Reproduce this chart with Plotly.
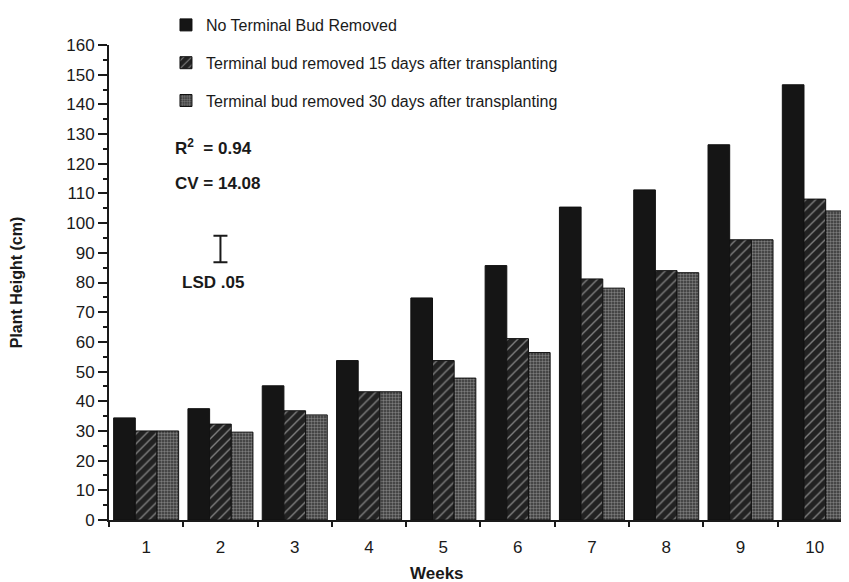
import plotly.graph_objects as go

weeks = ["1", "2", "3", "4", "5", "6", "7", "8", "9", "10"]
no_removal = [34.4, 37.5, 45.2, 53.7, 74.8, 85.7, 105.4, 111.2, 126.4, 146.6]
removed_15 = [30.0, 32.3, 36.8, 43.2, 53.7, 61.1, 81.2, 84.0, 94.4, 108.1]
removed_30 = [30.0, 29.6, 35.4, 43.2, 47.8, 56.4, 78.1, 83.3, 94.4, 104.1]
series_names = [
    "No Terminal Bud Removed",
    "Terminal bud removed 15 days after transplanting",
    "Terminal bud removed 30 days after transplanting",
]
lsd_week = ["2"]
lsd_center = [91.3]
lsd_half = [4.45]

FONT = "Liberation Sans, Arial, Helvetica, sans-serif"
INK = "#1a1a1a"

fig = go.Figure()
fig.add_trace(go.Bar(
    x=weeks, y=no_removal, name=series_names[0], legendgroup="a",
    marker=dict(color="#151515", line=dict(color="#111", width=1)),
))
fig.add_trace(go.Bar(
    x=weeks, y=removed_15, name=series_names[1], legendgroup="b",
    marker=dict(color="#222222", line=dict(color="#111", width=1),
                pattern=dict(shape="/", fgcolor="#dcdcdc", size=7, solidity=0.2)),
))
fig.add_trace(go.Bar(
    x=weeks, y=removed_30, name=series_names[2], legendgroup="c",
    marker=dict(color="#333333", line=dict(color="#111", width=1),
                pattern=dict(shape=".", fgcolor="#c4c4c4", size=3, solidity=0.5)),
))
fig.add_trace(go.Scatter(
    x=lsd_week, y=lsd_center, mode="markers", showlegend=False,
    marker=dict(size=1, color="rgba(0,0,0,0)"),
    error_y=dict(type="data", array=lsd_half, symmetric=True,
                 width=7, thickness=2, color=INK),
))

fig.update_layout(
    width=841, height=574,
    margin=dict(l=101, r=0, t=37, b=62, pad=0, autoexpand=False),
    paper_bgcolor="white", plot_bgcolor="white",
    font=dict(family=FONT, color=INK, size=16),
    barmode="group", bargap=0.125, bargroupgap=0,
    legend=dict(x=0.077, y=1.009, xanchor="left", yanchor="top", yref="container",
                font=dict(size=16, family=FONT, color=INK),
                tracegroupgap=14, bgcolor="rgba(0,0,0,0)"),
    xaxis=dict(type="category", categoryorder="array", categoryarray=weeks,
               range=[-0.5, 9.46], tickson="boundaries", ticks="outside",
               ticklen=5, tickwidth=2, tickcolor=INK, ticklabelstandoff=11,
               showline=True, linecolor=INK, linewidth=2,
               showgrid=False, zeroline=False,
               tickfont=dict(size=17, family=FONT, color=INK)),
    yaxis=dict(range=[0, 160], dtick=10, ticks="outside", ticklen=9,
               tickwidth=2, tickcolor=INK,
               minor=dict(dtick=5, ticks="outside", ticklen=4, tickwidth=2, tickcolor=INK),
               showline=True, linecolor=INK, linewidth=2,
               showgrid=False, zeroline=False,
               tickfont=dict(size=17, family=FONT, color=INK),
               title=dict(text="<b>Plant Height (cm)</b>", standoff=40,
                          font=dict(size=16, family=FONT, color=INK))),
    annotations=[
        dict(text="<b>R<sup>2</sup>  = 0.94</b>", x=0.0865, y=0.785,
             xref="paper", yref="paper", xanchor="left", yanchor="middle",
             showarrow=False, font=dict(size=17, family=FONT, color=INK)),
        dict(text="<b>CV = 14.08</b>", x=0.0865, y=0.709,
             xref="paper", yref="paper", xanchor="left", yanchor="middle",
             showarrow=False, font=dict(size=17, family=FONT, color=INK)),
        dict(text="<b>LSD .05</b>", x=0.096, y=0.499,
             xref="paper", yref="paper", xanchor="left", yanchor="middle",
             showarrow=False, font=dict(size=17, family=FONT, color=INK)),
        dict(text="<b>Weeks</b>", x=0.443, y=-0.113,
             xref="paper", yref="paper", xanchor="center", yanchor="middle",
             showarrow=False, font=dict(size=17, family=FONT, color=INK)),
    ],
)

fig.write_html("out.html")
